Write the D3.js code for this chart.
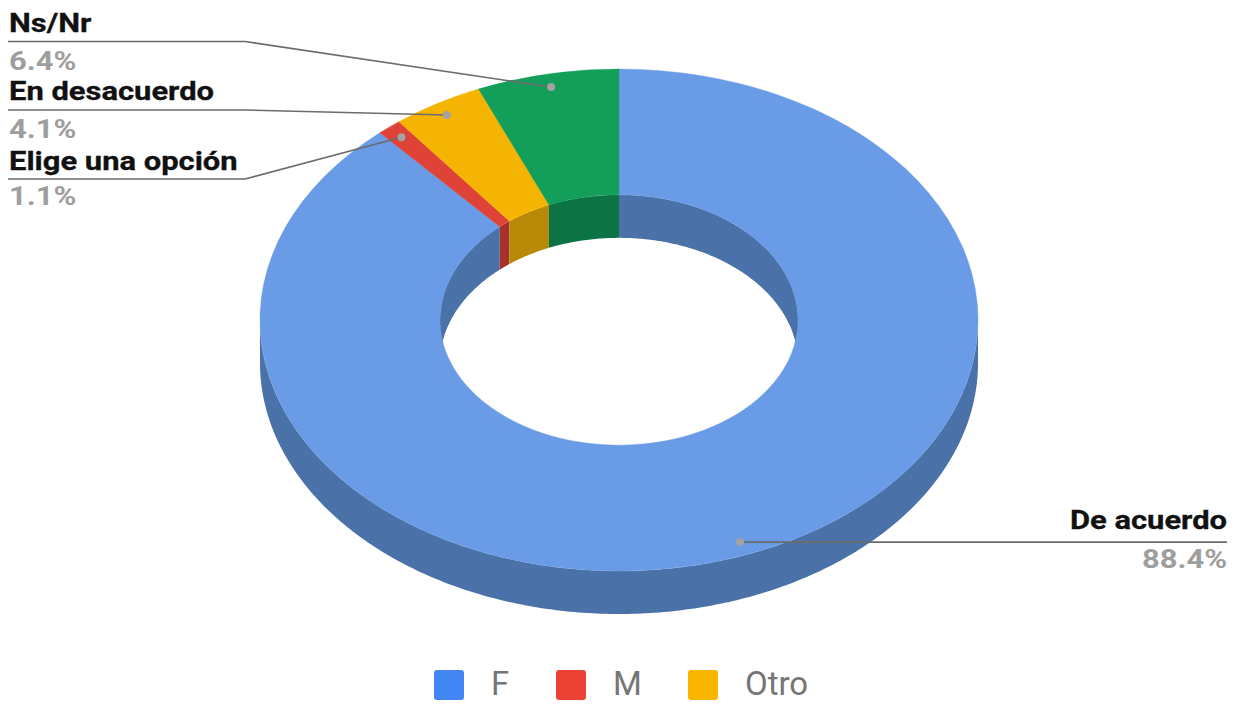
<!DOCTYPE html>
<html>
<head>
<meta charset="utf-8">
<script src="https://cdn.jsdelivr.net/npm/d3@7"></script>
<style>
  html, body { margin: 0; padding: 0; background: #fff; }
  svg { display: block; }
  text { font-family: Roboto, "Noto Sans", Arial, sans-serif; }
</style>
</head>
<body>
<svg id="chart" width="1249" height="704"></svg>
<script>
// Slices, clockwise from 12 o'clock
const categories = ["De acuerdo", "Elige una opción", "En desacuerdo", "Ns/Nr"];
const values = [88.4, 1.1, 4.1, 6.4];
const percentLabels = ["88.4%", "1.1%", "4.1%", "6.4%"];
const topColors = ["#6a9be6", "#df4338", "#f5b401", "#139f59"];
const sideColors = ["#4b72a8", "#a6322a", "#b88a07", "#0c7344"];

// Legend entries
const legendLabels = ["F", "M", "Otro"];
const legendColors = ["#4285f4", "#ea4335", "#f9b500"];

const svg = d3.select("#chart");
const cx = 619, cy = 320;
const rOut = 359, rIn = 179;
const tilt = 251 / 359;      // vertical squash of the disc
const depth = 43;            // thickness of the ring

const pie = d3.pie().sort(null).value(d => d).startAngle(0).endAngle(2 * Math.PI);
const arcs = pie(values);

// point on the tilted disc for a given angle (clockwise from top) and radius
const px = (a, r) => cx + r * Math.sin(a);
const py = (a, r) => cy - r * tilt * Math.cos(a);

function wall(r, a0, a1) {
  const n = Math.max(2, Math.ceil((a1 - a0) * 80));
  const pts = d3.range(n + 1).map(i => a0 + (a1 - a0) * i / n);
  return d3.area()
    .x(a => px(a, r))
    .y0(a => py(a, r))
    .y1(a => py(a, r) + depth)(pts);
}

function clip(a0, a1, lo, hi) {
  const s = Math.max(a0, lo), e = Math.min(a1, hi);
  return s < e ? [s, e] : null;
}

const walls = svg.append("g");
// inner wall: far half of the hole
arcs.forEach((d, i) => {
  [[0, Math.PI / 2], [1.5 * Math.PI, 2 * Math.PI]].forEach(([lo, hi]) => {
    const c = clip(d.startAngle, d.endAngle, lo, hi);
    if (c) walls.append("path").attr("d", wall(rIn, c[0], c[1])).attr("fill", sideColors[i]);
  });
});
// outer wall: near half of the rim
arcs.forEach((d, i) => {
  const c = clip(d.startAngle, d.endAngle, Math.PI / 2, 1.5 * Math.PI);
  if (c) walls.append("path").attr("d", wall(rOut, c[0], c[1])).attr("fill", sideColors[i]);
});

// top faces
const arcGen = d3.arc().innerRadius(rIn).outerRadius(rOut);
svg.append("g")
  .attr("transform", `translate(${cx},${cy}) scale(1,${tilt})`)
  .selectAll("path")
  .data(arcs)
  .join("path")
  .attr("d", arcGen)
  .attr("fill", (d, i) => topColors[i])
  .attr("stroke", (d, i) => topColors[i])
  .attr("stroke-width", 0.5);

// callouts
const dotR = 340;
const labelFont = 26;
const labelStretch = 1.19;   // wide label lettering
const callouts = [
  { i: 3, side: "left", textY: 32, lineY: 41.5, pctY: 70 },
  { i: 2, side: "left", textY: 100, lineY: 110, pctY: 138 },
  { i: 1, side: "left", textY: 170, lineY: 179, pctY: 205 },
  { i: 0, side: "right", textY: 529, pctY: 568 }
];
const gLab = svg.append("g");
callouts.forEach(c => {
  const d = arcs[c.i];
  const mid = (d.startAngle + d.endAngle) / 2;
  const dx = px(mid, dotR), dy = py(mid, dotR);
  let pts;
  if (c.side === "left") {
    pts = [[8, c.lineY], [245, c.lineY], [dx, dy]];
  } else {
    pts = [[dx, dy], [1227, dy]];
  }
  gLab.append("path")
    .attr("d", d3.line()(pts))
    .attr("fill", "none")
    .attr("stroke", "#6b6b6b")
    .attr("stroke-width", 1.6);
  gLab.append("circle").attr("cx", dx).attr("cy", dy).attr("r", 4).attr("fill", "#a3a3a3");
  const x = c.side === "left" ? 9 : 1227;
  const anchor = c.side === "left" ? "start" : "end";
  gLab.append("text")
    .attr("transform", `translate(${x},${c.textY}) scale(${labelStretch},1)`)
    .attr("text-anchor", anchor)
    .attr("font-size", labelFont).attr("font-weight", 700).attr("fill", "#111")
    .attr("stroke", "#111").attr("stroke-width", 0.3)
    .text(categories[c.i]);
  gLab.append("text")
    .attr("transform", `translate(${x},${c.pctY}) scale(${labelStretch},1)`)
    .attr("text-anchor", anchor)
    .attr("font-size", labelFont).attr("font-weight", 700).attr("fill", "#9e9e9e")
    .text(percentLabels[c.i]);
});

// legend
const legendX = [434, 556, 688];
const lg = svg.append("g");
legendLabels.forEach((t, i) => {
  lg.append("rect").attr("x", legendX[i]).attr("y", 670).attr("width", 30).attr("height", 30)
    .attr("rx", 3).attr("fill", legendColors[i]);
  lg.append("text").attr("x", legendX[i] + 57).attr("y", 695)
    .attr("font-size", 33).attr("fill", "#757575").text(t);
});
</script>
</body>
</html>
